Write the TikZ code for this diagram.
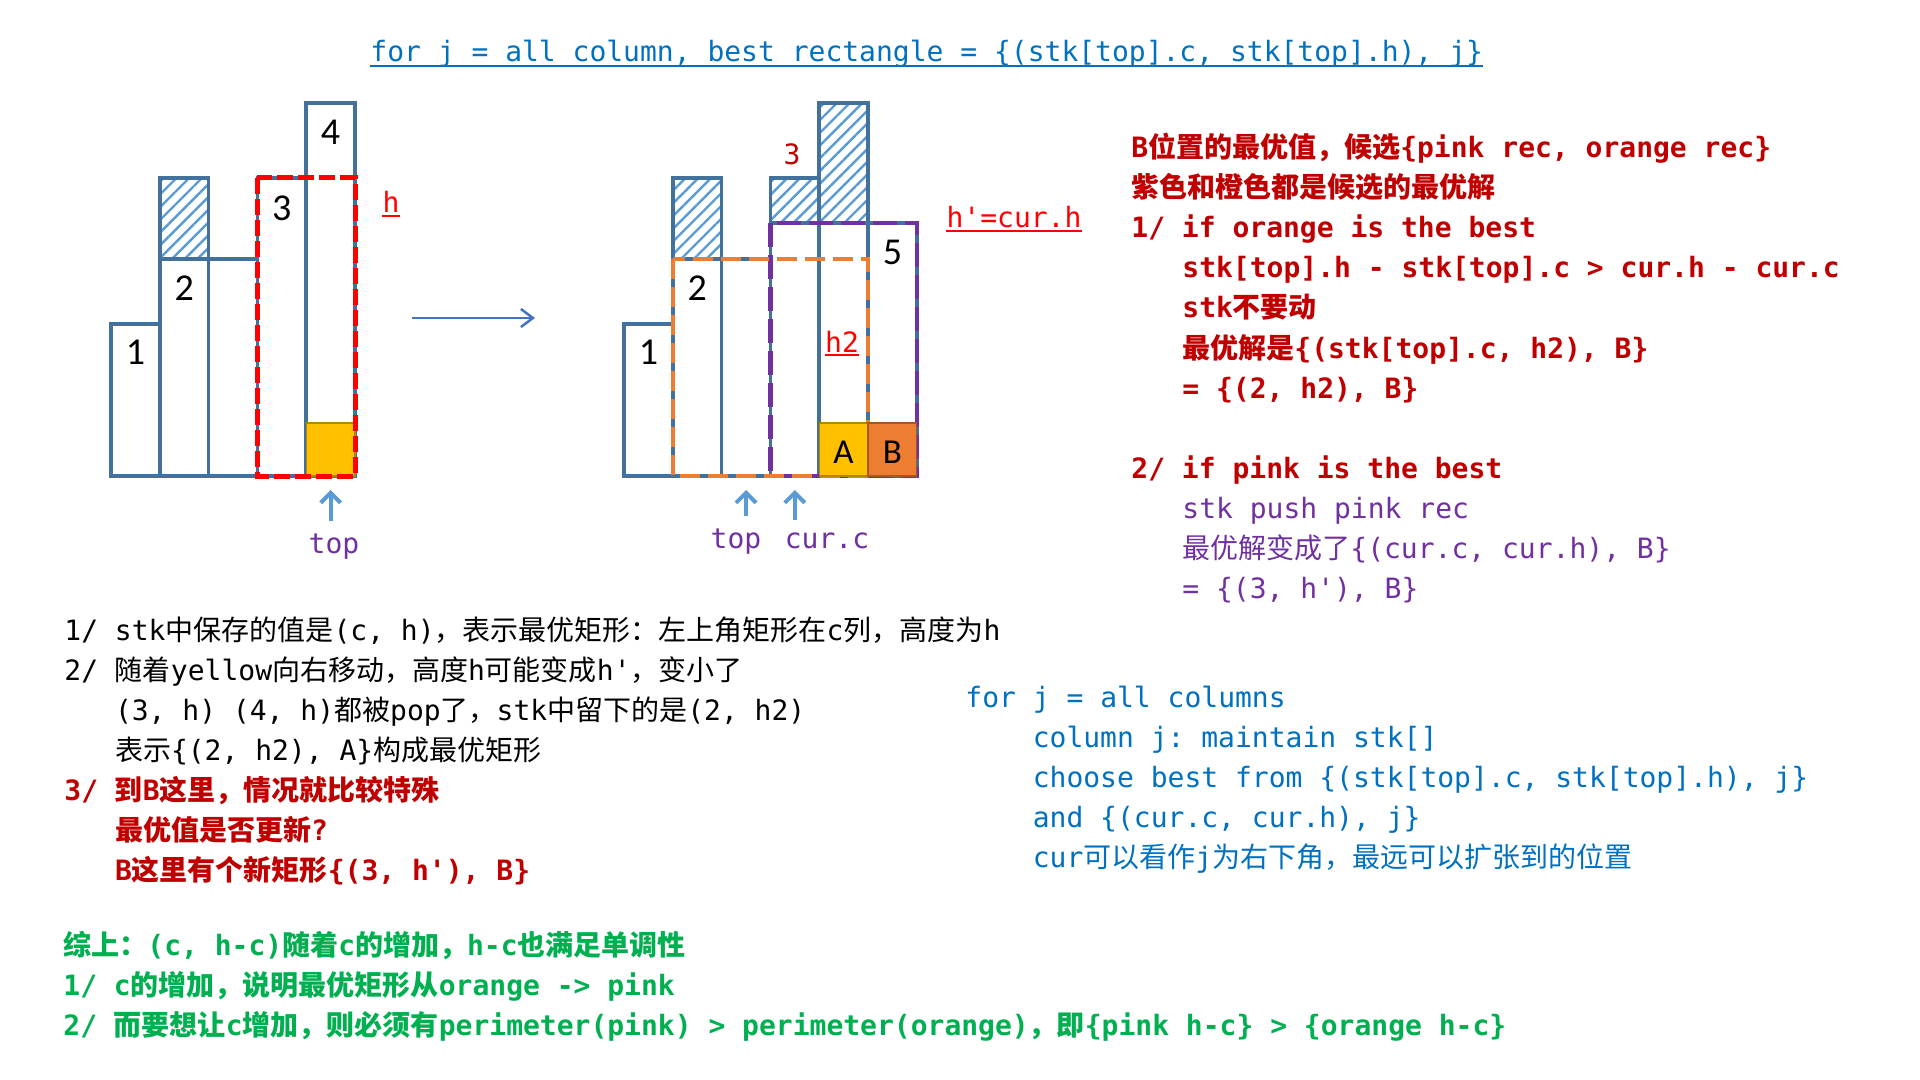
\documentclass[tikz,border=0pt]{standalone}
\usepackage{fontspec}
\setmonofont{DejaVu Sans Mono}
\newfontfamily\cjkfont{Noto Sans CJK SC}
\newfontfamily\numfont{Carlito}
\usetikzlibrary{arrows.meta, patterns.meta}

\definecolor{cBar}{HTML}{41719C}
\definecolor{cHatch}{HTML}{5B9BD5}
\definecolor{cYel}{HTML}{FFC000}
\definecolor{cOrg}{HTML}{ED7D31}
\definecolor{cPur}{HTML}{7030A0}
\definecolor{cRed}{HTML}{FF0000}
\definecolor{cDRed}{HTML}{C00000}
\definecolor{cBlue}{HTML}{0070C0}
\definecolor{cGreen}{HTML}{00B050}
\definecolor{cArr}{HTML}{4472C4}

% Chinese characters switch to the CJK family by themselves
\XeTeXinterchartokenstate=1
\newXeTeXintercharclass\cjkclass
\newcount\cjkcnt
\def\setcjkrange#1#2{\cjkcnt=#1\relax
  \loop\XeTeXcharclass\cjkcnt=\cjkclass
  \ifnum\cjkcnt<#2\advance\cjkcnt by 1\repeat}
\setcjkrange{"4E00}{"9FFF}
\setcjkrange{"3000}{"303F}
\setcjkrange{"FF00}{"FFEF}
\XeTeXinterchartoks 0 \cjkclass = {\begingroup\cjkfont}
\XeTeXinterchartoks 4095 \cjkclass = {\begingroup\cjkfont}
\XeTeXinterchartoks \cjkclass 0 = {\endgroup}
\XeTeXinterchartoks \cjkclass 4095 = {\endgroup}

\begin{document}
\begin{tikzpicture}[
    x=0.5pt, y=-0.5pt,
    txt/.style={font=\ttfamily\fontsize{14}{17}\selectfont, inner sep=0pt,
                anchor=base west},
    bold/.style={txt, font=\ttfamily\bfseries\fontsize{14}{17}\selectfont},
    num/.style={font=\numfont\fontsize{19}{22}\selectfont, inner sep=0pt},
    bar/.style={draw=cBar, line width=1.75pt, fill=white},
    hatch/.style={draw=cBar, line width=1.75pt,
                  pattern={Lines[angle=45, distance=4.5pt, line width=1.2pt]},
                  pattern color=cHatch},
    redbox/.style={draw=cRed, line width=2.5pt, dash pattern=on 8pt off 2.5pt},
    orgbox/.style={draw=cOrg, line width=2.2pt, dash pattern=on 10pt off 4pt},
    purbox/.style={draw=cPur, line width=2.2pt, dash pattern=on 12pt off 4pt},
    cell/.style={line width=0.6pt},
    mv/.style={-{Straight Barb[length=6pt, width=9pt]}, line width=1.25pt, cArr},
    up/.style={-{Straight Barb[length=5pt, width=10pt]}, line width=2pt, cHatch},
    ul/.style={line width=1pt},
]
\path[use as bounding box] (0,0) rectangle (1920,1080);
\def\cw{48.8}
\def\xL{111}
\def\xR{624}

% ===========================================================================
% Title
% ===========================================================================
\node[txt, text=cBlue] (ttl) at (370,62)
      {for j = all column, best rectangle = \{(stk[top].c, stk[top].h), j\}};
\draw[ul, cBlue] ([yshift=-2pt]ttl.base west) -- ([yshift=-2pt]ttl.base east);

% ===========================================================================
% Left histogram: stack before B
% ===========================================================================
\foreach \i/\t in {0/324, 1/259, 2/259, 3/178, 4/103}
    \draw[bar] (\xL+\i*\cw,\t) rectangle (\xL+\i*\cw+\cw,476);
\draw[hatch] (\xL+\cw,178) rectangle (\xL+2*\cw,259);

\draw[cell, fill=cYel, draw=cYel!70!black] (\xL+4*\cw,423) rectangle (\xL+5*\cw,476);
\draw[redbox] (\xL+3*\cw,178) rectangle (\xL+5*\cw,476);

\node[num] (n1L) at (\xL+0.5*\cw,352) {1};
\node[num] (n2L) at (\xL+1.5*\cw,288) {2};
\node[num] (n3L) at (\xL+3.5*\cw,208) {3};
\node[num] (n4L) at (\xL+4.5*\cw,132) {4};

\node[txt, anchor=base, text=cRed] (hL) at (391,213) {h};
\draw[ul, cRed] ([yshift=-1.5pt]hL.base west) -- ([yshift=-1.5pt]hL.base east);

\node[txt, anchor=base, text=cPur] (topL) at (334,553) {top};
\coordinate (tipL) at (\xL+4.5*\cw,490);
\draw[up, shorten <=6pt] (tipL |- topL.north) -- (tipL);

% ----- step to the right -----
\coordinate (mvS) at (412,318);
\coordinate (mvE) at (535,318);
\draw[mv] (mvS) -- (mvE);

% ===========================================================================
% Right histogram: at B
% ===========================================================================
\foreach \i/\t in {0/324, 1/259, 2/259, 3/223, 4/223, 5/223}
    \draw[bar] (\xR+\i*\cw,\t) rectangle (\xR+\i*\cw+\cw,476);
\foreach \i/\t/\b in {1/178/259, 3/178/223, 4/103/223}
    \draw[hatch] (\xR+\i*\cw,\t) rectangle (\xR+\i*\cw+\cw,\b);

\draw[purbox] (\xR+3*\cw,223) rectangle (\xR+6*\cw,476);
\draw[orgbox] (\xR+\cw,259) rectangle (\xR+5*\cw,476);

\draw[cell, fill=cYel, draw=cYel!70!black] (\xR+4*\cw,423) rectangle (\xR+5*\cw,476);
\draw[cell, fill=cOrg, draw=cOrg!70!black] (\xR+5*\cw,423) rectangle (\xR+6*\cw,476);

\node[num] (n1R) at (\xR+0.5*\cw,352) {1};
\node[num] (n2R) at (\xR+1.5*\cw,288) {2};
\node[num] (n5R) at (\xR+5.5*\cw,252) {5};
\node[num, font=\numfont\fontsize{17.5}{21}\selectfont] (cA) at (\xR+4.5*\cw,452) {A};
\node[num, font=\numfont\fontsize{17.5}{21}\selectfont] (cB) at (\xR+5.5*\cw,452) {B};
\node[txt, anchor=base, text=cDRed] (n3R) at (792,165) {3};

\node[txt, anchor=base, text=cRed] (h2R) at (842,352) {h2};
\draw[ul, cRed] ([yshift=-1.5pt]h2R.base west) -- ([yshift=-1.5pt]h2R.base east);
\node[txt, anchor=base, text=cRed] (hpR) at (1014,228) {h'=cur.h};
\draw[ul, cRed] ([yshift=-1.5pt]hpR.base west) -- ([yshift=-1.5pt]hpR.base east);

\node[txt, anchor=base, text=cPur] (topR) at (736,548) {top};
\node[txt, anchor=base, text=cPur] (curC) at (827,548) {cur.c};
\coordinate (tipA) at (\xR+2.5*\cw,490);
\coordinate (tipB) at (\xR+3.5*\cw,490);
\draw[up, shorten <=6pt] (tipA |- topR.north) -- (tipA);
\draw[up, shorten <=6pt] (tipB |- curC.north) -- (tipB);

% ===========================================================================
% Right notes: best value at B
% ===========================================================================
\node[bold, text=cDRed] (rt1) at (1131,157.5) {B位置的最优值，候选\{pink rec, orange rec\}};
\node[bold, text=cDRed] (rt2) at (1131,197.6) {紫色和橙色都是候选的最优解};
\node[bold, text=cDRed] (rt3) at (1131,237.7) {1/ if orange is the best};
\node[bold, text=cDRed] (rt4) at (1182,277.8) {stk[top].h - stk[top].c > cur.h - cur.c};
\node[bold, text=cDRed] (rt5) at (1182,317.9) {stk不要动};
\node[bold, text=cDRed] (rt6) at (1182,358.0) {最优解是\{(stk[top].c, h2), B\}};
\node[bold, text=cDRed] (rt7) at (1182,398.1) {= \{(2, h2), B\}};
\node[bold, text=cDRed] (rt8) at (1131,478.3) {2/ if pink is the best};
\node[txt, text=cPur] (rt9) at (1182,518.4) {stk push pink rec};
\node[txt, text=cPur] (rt10) at (1182,558.5) {最优解变成了\{(cur.c, cur.h), B\}};
\node[txt, text=cPur] (rt11) at (1182,598.6) {= \{(3, h'), B\}};

% ===========================================================================
% Left notes: what the stack holds
% ===========================================================================
\node[txt] (lt1) at (64,640.5) {1/ stk中保存的值是(c, h)，表示最优矩形：左上角矩形在c列，高度为h};
\node[txt] (lt2) at (64,680.5) {2/ 随着yellow向右移动，高度h可能变成h'，变小了};
\node[txt] (lt3) at (114.6,720.5) {(3, h) (4, h)都被pop了，stk中留下的是(2, h2)};
\node[txt] (lt4) at (114.6,760.5) {表示\{(2, h2), A\}构成最优矩形};
\node[bold, text=cDRed] (lt5) at (64,800.5) {3/ 到B这里，情况就比较特殊};
\node[bold, text=cDRed] (lt6) at (114.6,840.5) {最优值是否更新?};
\node[bold, text=cDRed] (lt7) at (114.6,880.5) {B这里有个新矩形\{(3, h'), B\}};

% ----- loop sketch -----
\node[txt, text=cBlue] (ct1) at (965,707) {for j = all columns};
\node[txt, text=cBlue] (ct2) at (1032.4,747) {column j: maintain stk[]};
\node[txt, text=cBlue] (ct3) at (1032.4,787) {choose best from \{(stk[top].c, stk[top].h), j\}};
\node[txt, text=cBlue] (ct4) at (1032.4,827) {and \{(cur.c, cur.h), j\}};
\node[txt, text=cBlue] (ct5) at (1032.4,867) {cur可以看作j为右下角，最远可以扩张到的位置};

% ===========================================================================
% Summary
% ===========================================================================
\node[bold, text=cGreen] (gt1) at (63,955) {综上：(c, h-c)随着c的增加，h-c也满足单调性};
\node[bold, text=cGreen] (gt2) at (63,995) {1/ c的增加，说明最优矩形从orange -> pink};
\node[bold, text=cGreen] (gt3) at (63,1035)
      {2/ 而要想让c增加，则必须有perimeter(pink) > perimeter(orange)，即\{pink h-c\} > \{orange h-c\}};

\end{tikzpicture}
\end{document}
